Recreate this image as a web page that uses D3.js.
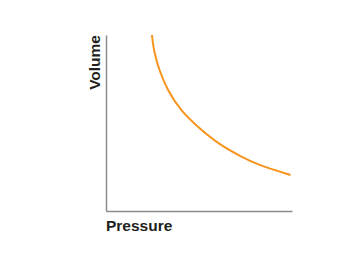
<!DOCTYPE html>
<html>
<head>
<meta charset="utf-8">
<script src="https://cdn.jsdelivr.net/npm/d3@7"></script>
<style>
body { margin: 0; background: #fff; }
text { font-family: "Liberation Sans", Arial, sans-serif; font-weight: bold; fill: #231f20; }
</style>
</head>
<body>
<svg id="chart" width="350" height="265"></svg>
<script>
"use strict";

// values (arbitrary units)
var pressure = [2.47, 2.56, 2.85, 3.30, 3.98, 5.05, 6.13, 7.20, 8.12, 9.92];
var volume   = [10.0, 9.15, 8.01, 6.88, 5.74, 4.66, 3.75, 3.13, 2.64, 2.05];
var xLabel = "Pressure";
var yLabel = "Volume";

document.addEventListener("DOMContentLoaded", init);

function init() {
	var svg = d3.select("#chart");
	var left = 106, right = 292, top = 35, bottom = 211;

	var x = d3.scaleLinear().domain([0, 10]).range([left, right]);
	var y = d3.scaleLinear().domain([0, 10]).range([bottom, top]);

	// axes: only the domain lines, no ticks
	svg.append("g")
	   .attr("transform", "translate(0," + bottom + ")")
	   .call(d3.axisBottom(x).tickValues([]).tickSizeOuter(0))
	   .call(g => g.select(".domain").attr("stroke", "#8c8c8c").attr("stroke-width", 1.5));
	svg.append("g")
	   .attr("transform", "translate(" + left + ",0)")
	   .call(d3.axisLeft(y).tickValues([]).tickSizeOuter(0))
	   .call(g => g.select(".domain").attr("stroke", "#8c8c8c").attr("stroke-width", 1.5));

	var pts = pressure.map((p, i) => [p, volume[i]]);
	var line = d3.line()
	             .x(d => x(d[0]))
	             .y(d => y(d[1]))
	             .curve(d3.curveBasis);

	svg.append("path")
	   .datum(pts)
	   .attr("d", line)
	   .attr("fill", "none")
	   .attr("stroke", "#f7941d")
	   .attr("stroke-width", 2);

	svg.append("text")
	   .attr("x", left)
	   .attr("y", 231)
	   .style("font-size", "15.5px")
	   .text(xLabel);

	svg.append("text")
	   .attr("transform", "translate(100," + top + ") rotate(-90)")
	   .attr("text-anchor", "end")
	   .style("font-size", "15.5px")
	   .text(yLabel);
}
</script>
</body>
</html>
